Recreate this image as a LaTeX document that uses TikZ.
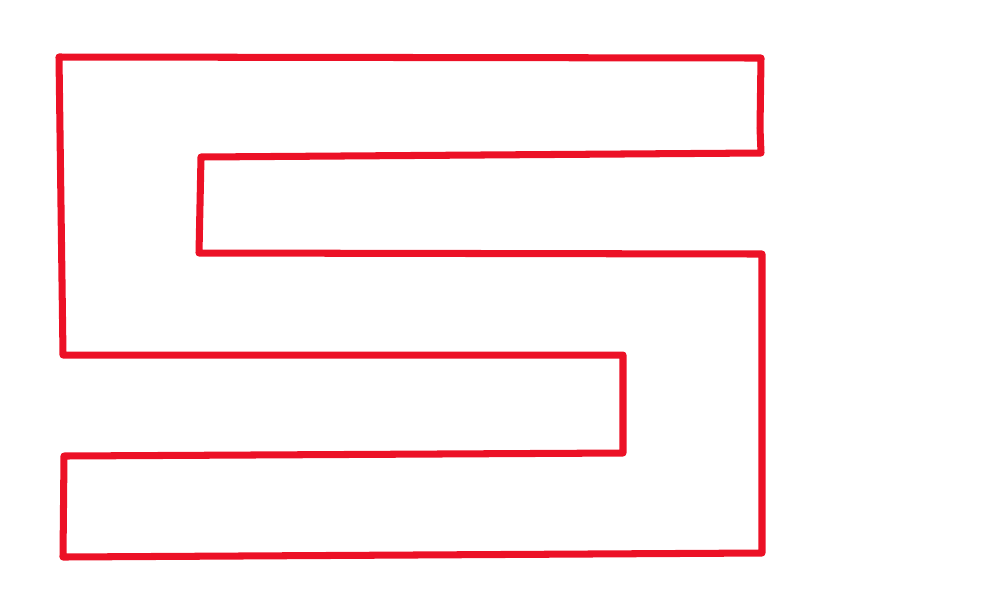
\documentclass[tikz,border=0pt]{standalone}
\usepackage{tikz}
\definecolor{strokered}{RGB}{236,17,38}

\begin{document}
\begin{tikzpicture}[x=0.02cm,y=-0.02cm,
        outline/.style={draw=strokered,line width=4pt,line join=round,line cap=round}]
    \useasboundingbox (0,0) rectangle (1000,600);

    % the S-shaped outline, hand drawn
    \draw[outline] (59,57) -- (761,58) -- (760,128) -- (761,153)
        -- (201,157) -- (199,253) -- (762,254) -- (762,553)
        -- (63,557) -- (64,456) -- (623,453) -- (623,355)
        -- (63,355) -- cycle;
\end{tikzpicture}
\end{document}
